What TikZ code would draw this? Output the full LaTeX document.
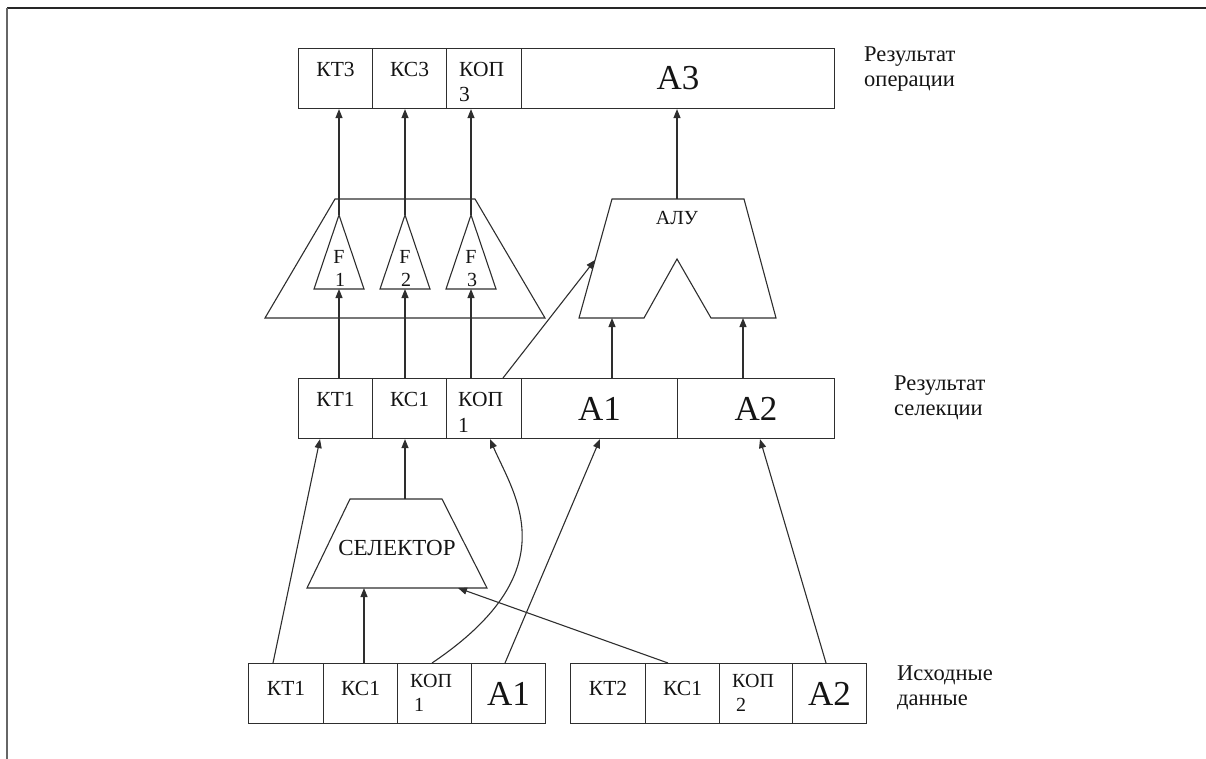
\documentclass[tikz,border=0pt]{standalone}
\usepackage{fontspec}
\setmainfont{Liberation Serif}
\usetikzlibrary{arrows.meta,calc}

\begin{document}
\begin{tikzpicture}[x=1pt,y=-1pt,
  ln/.style={draw=black!82, line width=1.1pt},
  arr/.style={ln, -{Triangle[length=9pt,width=7pt]}},
  cell/.style={ln, rectangle, inner sep=0pt, minimum height=60pt, anchor=north west},
  sm/.style={font=\fontsize{21.5}{25}\selectfont, inner sep=0pt, text=black!92},
  smk/.style={font=\fontsize{20}{24}\selectfont, inner sep=0pt, text=black!92},
  big/.style={font=\fontsize{35}{40}\selectfont, text=black!92},
  lab/.style={font=\fontsize{22.5}{25}\selectfont, align=left, inner sep=0pt, text=black!92, anchor=north west},
]
\useasboundingbox (0,0) rectangle (1206,759);

% page frame
\draw[black!85, line width=2pt] (7,8) -- (1206,8);
\draw[black!60, line width=2pt] (7,8) -- (7,759);

% ---------- result of the operation ----------
\node[cell, minimum width=74pt] (kt3) at (298,48) {};
\node[cell, minimum width=74pt] (kc3) at (372,48) {};
\node[cell, minimum width=75pt] (kop3) at (446,48) {};
\node[cell, minimum width=313pt, big] (a3) at (521,48) {А3};
\node[sm, anchor=base] (kt3-t) at ($(kt3.north)+(0,29)$) {КТ3};
\node[sm, anchor=base] (kc3-t) at ($(kc3.north)+(0,29)$) {КС3};
\node[sm, anchor=base west] (kop3-t) at ($(kop3.north west)+(13,29)$) {КОП};
\node[sm, anchor=base west] (kop3-n) at ($(kop3.north west)+(13,54)$) {3};

% ---------- result of the selection ----------
\node[cell, minimum width=74pt] (kt1m) at (298,378) {};
\node[cell, minimum width=74pt] (kc1m) at (372,378) {};
\node[cell, minimum width=75pt] (kop1m) at (446,378) {};
\node[cell, minimum width=156pt, big] (a1m) at (521,378) {А1};
\node[cell, minimum width=157pt, big] (a2m) at (677,378) {А2};
\node[sm, anchor=base] (kt1m-t) at ($(kt1m.north)+(0,28)$) {КТ1};
\node[sm, anchor=base] (kc1m-t) at ($(kc1m.north)+(0,28)$) {КС1};
\node[sm, anchor=base west] (kop1m-t) at ($(kop1m.north west)+(12,28)$) {КОП};
\node[sm, anchor=base west] (kop1m-n) at ($(kop1m.north west)+(12,54)$) {1};

% ---------- source data ----------
\node[cell, minimum width=75pt] (kt1b) at (248,663) {};
\node[cell, minimum width=74pt] (kc1b) at (323,663) {};
\node[cell, minimum width=74pt] (kop1b) at (397,663) {};
\node[cell, minimum width=74pt, big] (a1b) at (471,663) {А1};
\node[cell, minimum width=75pt] (kt2b) at (570,663) {};
\node[cell, minimum width=74pt] (kc2b) at (645,663) {};
\node[cell, minimum width=73pt] (kop2b) at (719,663) {};
\node[cell, minimum width=74pt, big] (a2b) at (792,663) {А2};
\node[sm, anchor=base] (kt1b-t) at ($(kt1b.north)+(0,32)$) {КТ1};
\node[sm, anchor=base] (kc1b-t) at ($(kc1b.north)+(0,32)$) {КС1};
\node[smk, anchor=base west] (kop1b-t) at ($(kop1b.north west)+(13,24)$) {КОП};
\node[smk, anchor=base west] (kop1b-n) at ($(kop1b.north west)+(17,48)$) {1};
\node[sm, anchor=base] (kt2b-t) at ($(kt2b.north)+(0,32)$) {КТ2};
\node[sm, anchor=base] (kc2b-t) at ($(kc2b.north)+(0,32)$) {КС1};
\node[smk, anchor=base west] (kop2b-t) at ($(kop2b.north west)+(13,24)$) {КОП};
\node[smk, anchor=base west] (kop2b-n) at ($(kop2b.north west)+(17,48)$) {2};

% ---------- row captions ----------
\node[lab] (cap-op) at (864,47) {Результат\\операции};
\node[lab] (cap-sel) at (894,376) {Результат\\селекции};
\node[lab] (cap-src) at (897,666) {Исходные\\данные};

% ---------- block of functions F1..F3 ----------
\draw[ln] (335,199) -- (475,199) -- (545,318) -- (265,318) -- cycle;
\foreach \i/\x in {1/339,2/405,3/471}{
  \coordinate (f\i-top) at (\x,215);
  \coordinate (f\i-bot) at (\x,289);
  \draw[ln] ($(f\i-bot)+(-25,0)$) -- (f\i-top) -- ($(f\i-bot)+(25,0)$) -- cycle;
  \node[sm, font=\fontsize{20}{24}\selectfont] (f\i-f) at (\x,257) {F};
  \node[sm, font=\fontsize{20}{24}\selectfont] (f\i-n) at (\x+1,280) {\i};
}

% ---------- ALU ----------
\coordinate (alu-top) at (677,199);
\coordinate (alu-in) at (595,260);
\coordinate (alu-l) at (612,318);
\coordinate (alu-r) at (743,318);
\draw[ln] (612,199) -- (744,199) -- (776,318) -- (711,318) -- (677,259)
          -- (644,318) -- (579,318) -- cycle;
\node[sm, font=\fontsize{20}{24}\selectfont] (alu-t) at (677,218) {АЛУ};

% ---------- selector ----------
\coordinate (sel-top) at (405,499);
\coordinate (sel-in1) at (364,588);
\coordinate (sel-in2) at (458,588);
\draw[ln] (350,499) -- (442,499) -- (487,588) -- (307,588) -- cycle;
\node[sm, font=\fontsize{23}{27}\selectfont] (sel-t) at (397,548) {СЕЛЕКТОР};

% ---------- connections ----------
\draw[arr] (f1-top) -- (f1-top |- kt3.south);
\draw[arr] (f2-top) -- (f2-top |- kc3.south);
\draw[arr] (f3-top) -- (f3-top |- kop3.south);
\draw[arr] (alu-top) -- (alu-top |- a3.south);

\draw[arr] (f1-bot |- kt1m.north) -- (f1-bot);
\draw[arr] (f2-bot |- kc1m.north) -- (f2-bot);
\draw[arr] (f3-bot |- kop1m.north) -- (f3-bot);
\draw[arr] ($(kop1m.north west)+(57,0)$) -- (alu-in);
\draw[arr] (alu-l |- a1m.north) -- (alu-l);
\draw[arr] (alu-r |- a2m.north) -- (alu-r);

\draw[arr] (sel-top) -- (sel-top |- kc1m.south);
\draw[arr] (sel-in1 |- kc1b.north) -- (sel-in1);
\draw[arr] ($(kc2b.north west)+(23,0)$) -- (sel-in2);
\draw[arr] ($(kt1b.north west)+(25,0)$) -- ($(kt1m.south west)+(22,0)$);
\draw[arr] ($(kop1b.north west)+(35,0)$) .. controls (570,570) and (514,495) .. ($(kop1m.south west)+(44,0)$);
\draw[arr] ($(a1b.north west)+(34,0)$) -- ($(a1m.south west)+(79,0)$);
\draw[arr] ($(a2b.north west)+(34,0)$) -- ($(a2m.south west)+(83,0)$);
\end{tikzpicture}
\end{document}
